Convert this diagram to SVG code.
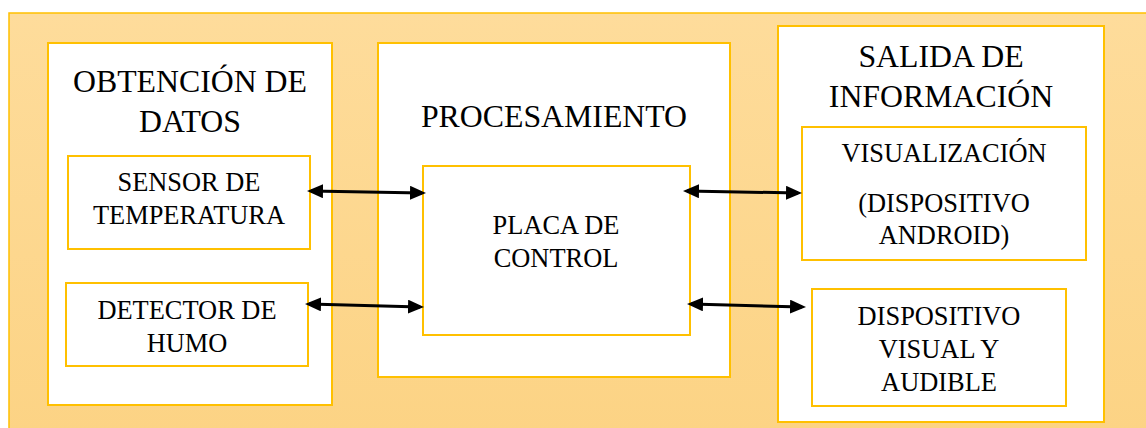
<svg xmlns="http://www.w3.org/2000/svg" width="1146" height="428" viewBox="0 0 1146 428">
  <defs>
    <linearGradient id="bg" x1="0" y1="0" x2="0" y2="1">
      <stop offset="0" stop-color="#FEDC9B"/>
      <stop offset="1" stop-color="#FCD384"/>
    </linearGradient>
    <marker id="ah" viewBox="0 0 16 14" refX="12" refY="7" markerWidth="16" markerHeight="14" markerUnits="userSpaceOnUse" orient="auto-start-reverse">
      <path d="M0,0 L16,7 L0,14 Z" fill="#000"/>
    </marker>
  </defs>
  <style>
    .box { fill: #FFFFFF; stroke: #FFC000; stroke-width: 2; }
    text { font-family: 'Liberation Serif', 'Times New Roman', Times, serif; fill: #000; text-anchor: middle; }
    .head { font-size: 31.8px; }
    .lbl { font-size: 26.4px; }
    .conn { stroke: #000; stroke-width: 3; fill: none; marker-start: url(#ah); marker-end: url(#ah); }
  </style>
  <rect x="0" y="0" width="1146" height="428" fill="#FFFFFF"/>
  <rect id="frame" x="9" y="13" width="1150" height="430" fill="url(#bg)" stroke="#FFC000" stroke-width="1.5"/>

  <g id="obtencion">
    <rect class="box" x="48" y="43" width="284" height="362"/>
    <text class="head" x="190" y="92">OBTENCIÓN DE</text>
    <text class="head" x="190" y="132">DATOS</text>
  </g>
  <g id="sensor">
    <rect class="box" x="68" y="156" width="242" height="93"/>
    <text class="lbl" x="189" y="191">SENSOR DE</text>
    <text class="lbl" x="189" y="224">TEMPERATURA</text>
  </g>
  <g id="detector">
    <rect class="box" x="66" y="283" width="242" height="83"/>
    <text class="lbl" x="187" y="319">DETECTOR DE</text>
    <text class="lbl" x="187" y="352">HUMO</text>
  </g>

  <g id="procesamiento">
    <rect class="box" x="378" y="43" width="352" height="334"/>
    <text class="head" x="554" y="127">PROCESAMIENTO</text>
  </g>
  <g id="placa">
    <rect class="box" x="423" y="166" width="267" height="169"/>
    <text class="lbl" x="556" y="234">PLACA DE</text>
    <text class="lbl" x="556" y="267">CONTROL</text>
  </g>

  <g id="salida">
    <rect class="box" x="778" y="26" width="326" height="396"/>
    <text class="head" x="941" y="67">SALIDA DE</text>
    <text class="head" x="941" y="107">INFORMACIÓN</text>
  </g>
  <g id="visualizacion">
    <rect class="box" x="802" y="127" width="284" height="133"/>
    <text class="lbl" x="944" y="162">VISUALIZACIÓN</text>
    <text class="lbl" x="944" y="212">(DISPOSITIVO</text>
    <text class="lbl" x="944" y="244">ANDROID)</text>
  </g>
  <g id="dispositivo">
    <rect class="box" x="812" y="289" width="254" height="117"/>
    <text class="lbl" x="939" y="325">DISPOSITIVO</text>
    <text class="lbl" x="939" y="358">VISUAL Y</text>
    <text class="lbl" x="939" y="391">AUDIBLE</text>
  </g>

  <g id="connectors">
    <line class="conn" x1="311" y1="191" x2="422" y2="193"/>
    <line class="conn" x1="309" y1="304" x2="420" y2="307"/>
    <line class="conn" x1="687" y1="191" x2="798" y2="193"/>
    <line class="conn" x1="691" y1="304" x2="802" y2="307"/>
  </g>
</svg>
